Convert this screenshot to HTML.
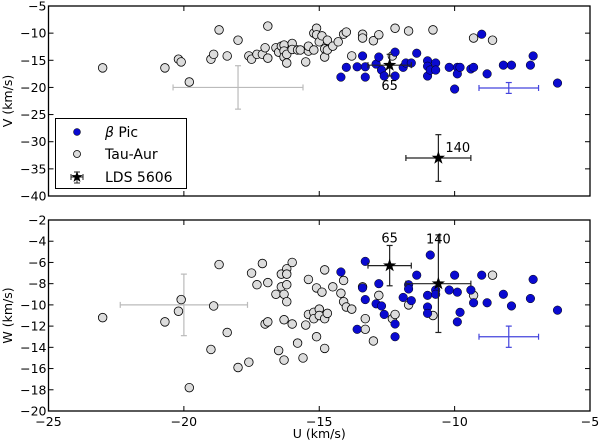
<!DOCTYPE html>
<html><head><meta charset="utf-8"><style>
html,body{margin:0;padding:0;background:#fff}
svg{display:block;font-family:"DejaVu Sans","Liberation Sans",sans-serif}
</style></head><body>
<svg id="chart" width="600" height="443" viewBox="0 0 600 443"></svg>
<script>
const tauUV=[[-23.0,-16.4],[-20.7,-16.4],[-20.2,-14.8],[-20.1,-15.3],[-19.8,-19.0],[-18.7,-9.4],[-19.0,-14.8],[-18.9,-13.9],[-18.4,-14.2],[-18.0,-11.3],[-17.6,-14.2],[-17.5,-14.8],[-17.3,-13.9],[-17.1,-13.9],[-17.0,-12.7],[-16.9,-8.7],[-16.9,-14.6],[-16.6,-12.7],[-16.5,-13.5],[-16.4,-12.4],[-16.3,-12.2],[-16.3,-13.3],[-16.3,-14.4],[-16.2,-13.9],[-16.2,-15.5],[-16.0,-11.9],[-16.0,-13.0],[-15.8,-13.1],[-15.7,-13.1],[-15.5,-15.3],[-15.4,-13.3],[-15.4,-12.4],[-15.2,-10.0],[-15.1,-9.1],[-15.2,-13.1],[-15.1,-10.3],[-15.0,-11.6],[-14.9,-10.5],[-14.8,-14.4],[-14.8,-12.9],[-14.7,-11.3],[-14.7,-13.1],[-14.5,-12.4],[-14.3,-11.6],[-14.1,-10.2],[-14.0,-9.8],[-13.8,-14.2],[-13.4,-10.2],[-13.4,-10.9],[-13.0,-11.4],[-12.8,-10.3],[-12.2,-9.1],[-11.7,-9.6],[-10.8,-9.4],[-9.3,-10.9],[-8.6,-11.3],[-12.3,-14.2]];
const picUV=[[-14.2,-18.1],[-14.0,-16.3],[-13.6,-16.2],[-13.4,-14.2],[-13.3,-16.2],[-13.3,-18.1],[-12.9,-15.7],[-12.8,-14.4],[-12.7,-16.8],[-12.6,-17.9],[-12.2,-17.9],[-12.2,-13.5],[-11.9,-16.3],[-11.8,-15.5],[-11.6,-15.5],[-11.4,-13.7],[-11.0,-15.1],[-11.0,-16.1],[-11.0,-17.9],[-10.9,-16.8],[-10.7,-15.5],[-10.7,-16.8],[-10.2,-16.3],[-10.0,-20.3],[-9.9,-16.3],[-9.9,-17.5],[-9.8,-16.3],[-9.4,-16.6],[-9.3,-16.3],[-9.0,-10.2],[-8.8,-17.5],[-8.2,-15.9],[-7.9,-15.9],[-7.2,-15.9],[-7.1,-14.2],[-6.2,-19.2]];
const tauUW=[[-23.0,-11.2],[-20.7,-11.6],[-20.2,-10.6],[-20.1,-9.5],[-19.8,-17.8],[-18.9,-10.1],[-19.0,-14.2],[-18.7,-6.2],[-18.4,-12.6],[-18.0,-15.9],[-17.6,-15.4],[-17.5,-7.0],[-17.3,-8.1],[-17.1,-6.1],[-17.0,-11.8],[-16.9,-7.9],[-16.9,-11.6],[-16.6,-9.0],[-16.5,-14.3],[-16.4,-7.1],[-16.4,-8.3],[-16.3,-9.0],[-16.3,-11.4],[-16.3,-15.2],[-16.2,-6.6],[-16.2,-8.1],[-16.2,-7.1],[-16.2,-9.7],[-16.0,-6.0],[-16.0,-11.8],[-15.8,-13.6],[-15.6,-15.0],[-15.5,-11.9],[-15.4,-7.6],[-15.4,-10.9],[-15.2,-10.7],[-15.2,-11.3],[-15.1,-8.4],[-15.1,-13.0],[-15.0,-10.4],[-15.0,-11.0],[-14.9,-8.8],[-14.8,-6.7],[-14.8,-11.3],[-14.8,-14.1],[-14.7,-10.8],[-14.5,-8.3],[-14.2,-8.9],[-14.1,-9.7],[-14.1,-7.7],[-14.0,-10.2],[-13.8,-10.4],[-13.4,-8.3],[-13.3,-11.3],[-13.3,-12.3],[-13.0,-13.4],[-12.8,-9.1],[-12.3,-11.3],[-12.2,-10.9],[-11.7,-10.0],[-10.8,-11.0],[-9.3,-9.1],[-8.6,-7.2]];
const picUW=[[-14.2,-6.9],[-13.6,-12.3],[-13.4,-8.4],[-13.3,-5.9],[-13.3,-9.5],[-12.9,-9.9],[-12.8,-8.0],[-12.7,-10.1],[-12.6,-10.9],[-12.2,-11.8],[-12.2,-13.0],[-11.9,-9.3],[-11.7,-8.1],[-11.7,-8.5],[-11.6,-9.6],[-11.4,-7.2],[-11.0,-9.1],[-11.0,-10.2],[-11.0,-10.8],[-10.9,-5.3],[-10.7,-8.6],[-10.7,-9.0],[-10.2,-8.6],[-10.0,-7.2],[-9.9,-8.8],[-9.9,-11.6],[-9.8,-10.7],[-9.4,-8.6],[-9.3,-9.8],[-9.0,-7.2],[-8.8,-9.8],[-8.2,-9.0],[-7.9,-10.1],[-7.2,-9.4],[-7.1,-7.6],[-6.2,-10.5]];
// LDS 5606 components: [U, V, W, eU, eV, eW]
const ldsLabels=["65","140"];
const ldsU=[-12.4,-10.6];
const ldsV=[-15.9,-33.0];
const ldsW=[-6.3,-8.0];
const ldsEU=[0.8,1.2];
const ldsEV=[2.0,4.3];
const ldsEW=[1.9,4.6];
// typical error bars [U,Y,eU,eY]
const tauErrUV=[-18.0,-20.0,2.4,4.0], picErrUV=[-8.0,-20.1,1.1,1.0];
const tauErrUW=[-20.0,-10.0,2.35,2.9], picErrUW=[-8.0,-13.0,1.1,1.0];
const xTicks=[-25,-20,-15,-10,-5];
const vTicks=[-5,-10,-15,-20,-25,-30,-35,-40];
const wTicks=[-2,-4,-6,-8,-10,-12,-14,-16,-18,-20];

const NS="http://www.w3.org/2000/svg";
const svg=document.getElementById('chart');
function el(t,a,p){const e=document.createElementNS(NS,t);for(const k in a)e.setAttribute(k,a[k]);(p||svg).appendChild(e);return e;}
const X0=48.5,X1=590;
const sx=u=>X0+(u+25)/20*(X1-X0);
const P1={top:6,bot:196,min:-40,max:-5}, P2={top:220,bot:411,min:-20,max:-2};
const sy=(P,v)=>P.bot-(v-P.min)/(P.max-P.min)*(P.bot-P.top);

function star(cx,cy,r,g){let pts=[];for(let i=0;i<10;i++){const a=-Math.PI/2+i*Math.PI/5;const rr=i%2?r*0.4:r;pts.push((cx+rr*Math.cos(a)).toFixed(1)+','+(cy+rr*Math.sin(a)).toFixed(1));}return el('polygon',{points:pts.join(' '),fill:'#000'},g);}
function errbar(g,cx,cy,xl,xr,yt,yb,col,w){
  el('line',{x1:xl,y1:cy,x2:xr,y2:cy,stroke:col,'stroke-width':w},g);
  el('line',{x1:cx,y1:yt,x2:cx,y2:yb,stroke:col,'stroke-width':w},g);
  [[xl,cy,0],[xr,cy,0],[cx,yt,1],[cx,yb,1]].forEach(([a,b,v])=>{
    if(v)el('line',{x1:a-3,y1:b,x2:a+3,y2:b,stroke:col,'stroke-width':w},g);
    else el('line',{x1:a,y1:b-3,x2:a,y2:b+3,stroke:col,'stroke-width':w},g);});
}
function panel(P,tau,pic,ldsY,ldsE,ticks,yl,tauErr,picErr,name,showX,labelPos){
  const g=el('g',{});
  
  
  const te=el('g',{},g);
  errbar(te,sx(tauErr[0]),sy(P,tauErr[1]),sx(tauErr[0]-tauErr[2]),sx(tauErr[0]+tauErr[2]),sy(P,tauErr[1]+tauErr[3]),sy(P,tauErr[1]-tauErr[3]),'#bbb',1.2);
  const pe=el('g',{},g);
  errbar(pe,sx(picErr[0]),sy(P,picErr[1]),sx(picErr[0]-picErr[2]),sx(picErr[0]+picErr[2]),sy(P,picErr[1]+picErr[3]),sy(P,picErr[1]-picErr[3]),'#4444dd',1.2);
  tau.forEach(d=>{const c=el('circle',{cx:sx(d[0]),cy:sy(P,d[1]),r:4.3,fill:'#dcdcdc',stroke:'#000','stroke-width':0.8},g);
    
    });
  pic.forEach(d=>{const c=el('circle',{cx:sx(d[0]),cy:sy(P,d[1]),r:4.3,fill:'#0a0ad0',stroke:'#000','stroke-width':0.5},g);
    
    });
  for(let i=0;i<ldsU.length;i++){
    const cx=sx(ldsU[i]),cy=sy(P,ldsY[i]);
    const sg=el('g',{},g);
    
    
    errbar(sg,cx,cy,sx(ldsU[i]-ldsEU[i]),sx(ldsU[i]+ldsEU[i]),sy(P,ldsY[i]+ldsE[i]),sy(P,ldsY[i]-ldsE[i]),'#222',1.2);
    star(cx,cy,7,sg);
    const lp=labelPos[i];
    const t=el('text',{x:cx+lp[0],y:cy+lp[1],'font-size':13,'text-anchor':lp[2]},sg);t.textContent=ldsLabels[i];
    
    
  }
  el('rect',{x:X0,y:P.top,width:X1-X0,height:P.bot-P.top,fill:'none',stroke:'#000','stroke-width':1.3},g);
  xTicks.forEach(u=>{const x=sx(u);
    el('line',{x1:x,y1:P.bot,x2:x,y2:P.bot-5,stroke:'#000'},g);
    el('line',{x1:x,y1:P.top,x2:x,y2:P.top+5,stroke:'#000'},g);
    if(showX){const t=el('text',{x:x,y:P.bot+15,'font-size':12.5,'text-anchor':'middle'},g);t.textContent=(u<0?'\u2212':'')+Math.abs(u);
      
      }
  });
  ticks.forEach(v=>{const y=sy(P,v);
    el('line',{x1:X0,y1:y,x2:X0+5,y2:y,stroke:'#000'},g);
    el('line',{x1:X1,y1:y,x2:X1-5,y2:y,stroke:'#000'},g);
    const t=el('text',{x:X0-2,y:y+4.5,'font-size':12.5,'text-anchor':'end'},g);t.textContent=(v<0?'\u2212':'')+Math.abs(v);
    
    
  });
  const yt=el('text',{x:0,y:0,'font-size':12.5,'text-anchor':'middle',transform:`translate(12,${(P.top+P.bot)/2}) rotate(-90)`},g);
  yt.textContent=yl;
  
  
}
panel(P1,tauUV,picUV,ldsV,ldsEV,vTicks,'V (km/s)',tauErrUV,picErrUV,'uv-panel',false,[[0,25,'middle'],[7,-6,'start']]);
panel(P2,tauUW,picUW,ldsW,ldsEW,wTicks,'W (km/s)',tauErrUW,picErrUW,'uw-panel',true,[[0,-23,'middle'],[0,-40,'middle']]);
const xt=el('text',{x:(X0+X1)/2,y:438,'font-size':12.5,'text-anchor':'middle'});xt.textContent='U (km/s)';


// legend
const lg=el('g',{});


el('rect',{x:55.5,y:118.5,width:131,height:70,fill:'#fff',stroke:'#000','stroke-width':1},lg);
el('circle',{cx:77,cy:132,r:3.5,fill:'#0a0ad0',stroke:'#000','stroke-width':0.5},lg);
el('circle',{cx:77,cy:154,r:3.5,fill:'#dcdcdc',stroke:'#000','stroke-width':0.8},lg);
errbar(lg,77,177,71,83,172,183,'#222',1);star(77,177,6,lg);
[['\u03B2 Pic',137],['Tau-Aur',159],['LDS 5606',182]].forEach(([s,y],i)=>{
  const t=el('text',{x:105,y:y,'font-size':14},lg);
  if(i===0){const a=el('tspan',{'font-style':'italic'},t);a.textContent='\u03B2';const b=el('tspan',{},t);b.textContent=' Pic';}
  else t.textContent=s;
  
  
});
</script>
</body></html>
